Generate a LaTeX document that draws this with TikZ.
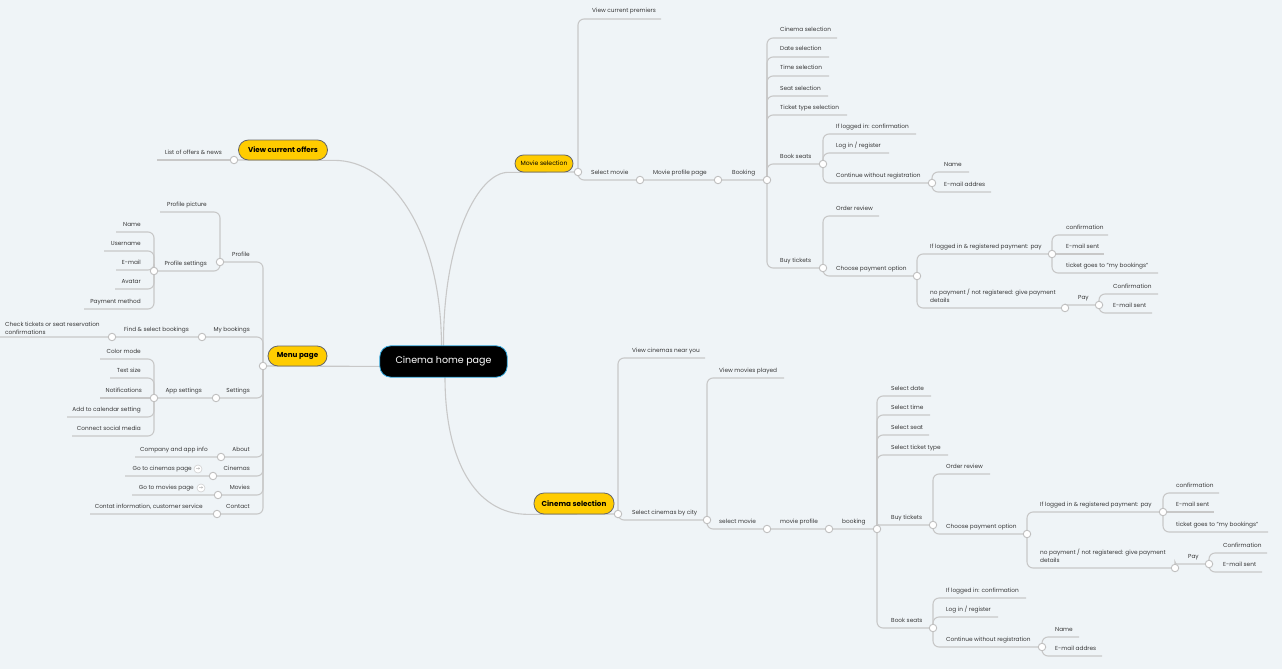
\documentclass[tikz,border=0pt]{standalone}
\usepackage{fontspec}
\setmainfont{Poppins}
\newfontfamily\symfont{DejaVu Sans}
\usetikzlibrary{positioning}

\definecolor{paper}{HTML}{EFF4F7}
\definecolor{linegray}{HTML}{C8C8C8}
\definecolor{gold}{HTML}{FFCC00}
\definecolor{rootblue}{HTML}{33AAE0}

\pgfdeclarelayer{bg}
\pgfsetlayers{bg,main}

\tikzset{
  lbl/.style={font=\fontsize{5.8}{8}\selectfont, text=black!78, inner sep=0pt},
  rlbl/.style={lbl, anchor=base west},
  llbl/.style={lbl, anchor=base east},
  dot/.style={circle, draw=black!25, fill=white, line width=0.9pt, minimum size=7.5pt, inner sep=0pt},
  conn/.style={draw=linegray, line width=1.1pt, rounded corners=6pt},
  topic/.style={rounded corners=10pt, fill=gold, draw=black!60, line width=0.8pt,
    font=\bfseries\fontsize{7.2}{8}\selectfont, inner sep=0pt, minimum height=20pt},
  goicon/.style={circle, draw=black!18, fill=white, line width=0.6pt, minimum size=8pt,
    inner sep=0pt, font=\symfont\fontsize{5}{5}\selectfont, text=black!45}
}

\begin{document}
\begin{tikzpicture}[x=1pt,y=-1pt]
\begin{pgfonlayer}{bg}
  \fill[paper] (0,0) rectangle (1282,669);
\end{pgfonlayer}
\useasboundingbox (0,0) rectangle (1282,669);

% centre and main topics
\node[minimum width=127pt, minimum height=31pt, inner sep=0pt, text=white,
      font=\fontsize{9.5}{10}\selectfont] (home) at (443.5,361.5) {Cinema home page};
\node[topic, minimum width=89pt] (offers) at (283,150) {View current offers};
\node[topic, minimum width=59pt] (menu) at (297.5,356) {Menu page};
\node[topic, minimum width=58pt, minimum height=17pt, rounded corners=8.5pt,
      font=\fontsize{6.1}{7}\selectfont] (moviesel) at (544,163.5) {Movie selection};
\node[topic, minimum width=80pt, minimum height=21pt] (cinemasel) at (574,503.5) {Cinema selection};

% junction dots
\foreach \nm/\pt in {offc/{234,160}, menuc/{263,366}, msc/{578,172}, csc/{618,514},
    profc/{220,262}, psc/{154,271}, mybc/{202,337}, fsbc/{112,337}, setc/{216,398},
    appc/{154,398}, abc/{221,457}, cinc/{213,476}, movc/{218,495}, conc/{217,514},
    smc/{640,180}, mppc/{718,180}, bkc/{767,180}, bsc/{823,164}, cwrc/{932,183},
    btc/{823,268}, cpoc/{917,276}, ilc/{1052,254}, npc/{1065,308}, payc/{1099,305},
    scc/{707,520}, sm2c/{767,529}, mp2c/{829,529}, bk2c/{877,529}, bt2c/{933,525},
    cpo2c/{1027,534}, il2c/{1163,512}, np2c/{1175,568}, pay2c/{1209,564},
    bs2c/{933,628}, cwr2c/{1042,647}}
  \node[dot] (\nm) at (\pt) {};

\begin{pgfonlayer}{bg}
  \draw[conn] ([xshift=-2pt]home.north) .. controls (441,230) and (390,160) .. (offers.south east) -- (offc);
  \draw[conn] (home.west |- menu.south) -- (menuc);
  \draw[conn] (home.north) .. controls (443,240) and (478,172) .. (moviesel.south west) -- (msc);
  \draw[conn] ([xshift=1.5pt]home.south) .. controls (445,460) and (475,514) .. (cinemasel.south west) -- (csc);
  \draw[fill=black, draw=rootblue, line width=0.8pt] (home.south) [rounded corners=11pt]
    -- (home.south west) -- (home.north west) -- (home.north east) -- (home.south east)
    [sharp corners] -- cycle;
\end{pgfonlayer}

% offers
\node[llbl] (news) at (222,154) {List of offers \& news};
\coordinate (news-e) at (157,160);

% menu page
\node[llbl] (profile) at (250,256) {Profile};
\node[llbl] (profpic) at (207,206) {Profile picture};
\coordinate (profpic-e) at (160,212);
\node[llbl] (profset) at (207,265) {Profile settings};
\node[llbl] (mybook) at (250,331) {My bookings};
\node[llbl] (findsel) at (189,331) {Find \& select bookings};
\node[lbl, anchor=base west, align=left] (checktk) at (5,334) {Check tickets or seat reservation\\confirmations};
\coordinate (checktk-e) at (0,337);
\node[llbl] (settings) at (250,392) {Settings};
\node[llbl] (appset) at (202,392) {App settings};
\node[llbl] (about) at (250,451) {About};
\node[llbl] (compinfo) at (208,451) {Company and app info};
\coordinate (compinfo-e) at (135,457);
\node[llbl] (cinemas) at (250,470) {Cinemas};
\node[llbl] (gocin) at (192,470) {Go to cinemas page};
\node[goicon] (gocin-i) at (198,469) {→};
\coordinate (gocin-e) at (125,476);
\node[llbl] (movies) at (250,489) {Movies};
\node[llbl] (gomov) at (194,489) {Go to movies page};
\node[goicon] (gomov-i) at (201,488) {→};
\coordinate (gomov-e) at (132,495);
\node[llbl] (contact) at (250,508) {Contact};
\node[llbl] (continfo) at (203,508) {Contat information, customer service};
\coordinate (continfo-e) at (90,514);

\begin{pgfonlayer}{bg}
  \draw[conn] (offc) -- (news-e);
  \draw[conn] (menuc) |- (profc);
  \draw[conn] (profc) |- (profpic-e);
  \draw[conn] (profc) |- (psc);
  \draw[conn] (menuc) |- (mybc) -- (fsbc) -- (checktk-e);
  \draw[conn] (menuc) |- (setc) -- (appc);
  \draw[conn] (menuc) |- (abc) -- (compinfo-e);
  \draw[conn] (menuc) |- (cinc) -- (gocin-e);
  \draw[conn] (menuc) |- (movc) -- (gomov-e);
  \draw[conn] (menuc) |- (conc) -- (continfo-e);
\end{pgfonlayer}

\foreach \nm/\yy/\ex/\txt in {pname/232/116/Name, puser/251/104/Username,
    pmail/270/116/E-mail, pavatar/289/115/Avatar, ppay/309/84/Payment method}{
  \node[llbl] (\nm) at (141,\yy-6) {\txt};
  \coordinate (\nm-e) at (\ex,\yy);
  \begin{pgfonlayer}{bg}\draw[conn] (psc) |- (\nm-e);\end{pgfonlayer}
}
\foreach \nm/\yy/\ex/\txt in {acolor/359/100/Color mode, atext/378/110/Text size,
    acal/417/67/Add to calendar setting, asocial/436/72/Connect social media}{
  \node[llbl] (\nm) at (141,\yy-6) {\txt};
  \coordinate (\nm-e) at (\ex,\yy);
  \begin{pgfonlayer}{bg}\draw[conn] (appc) |- (\nm-e);\end{pgfonlayer}
}
\node[llbl] (anotif) at (142,392) {Notifications};
\coordinate (anotif-e) at (100,398);
\begin{pgfonlayer}{bg}\draw[conn] (appc) -- (anotif-e);\end{pgfonlayer}

% movie selection
\node[rlbl] (premiers) at (592,13) {View current premiers};
\coordinate (premiers-e) at (661,19);
\node[rlbl] (selmovie) at (591,174) {Select movie};
\node[rlbl] (mprofile) at (653,174) {Movie profile page};
\node[rlbl] (booking) at (732,174) {Booking};
\node[rlbl] (bookseats) at (780,158) {Book seats};
\node[rlbl] (contreg) at (836,177) {Continue without registration};
\node[rlbl] (buytk) at (780,262) {Buy tickets};
\node[rlbl] (ordrev) at (836,210) {Order review};
\coordinate (ordrev-e) at (879,216);
\node[rlbl] (choosepay) at (836,270) {Choose payment option};
\node[rlbl] (logpay) at (930,248) {If logged in \& registered payment: pay};
\node[lbl, anchor=base west, align=left] (nopay) at (930,302) {no payment / not registered: give payment\\details};
\node[rlbl] (pay) at (1078,299) {Pay};
\node[rlbl] (imail) at (1066,248) {E-mail sent};
\coordinate (imail-e) at (1104,254);

\begin{pgfonlayer}{bg}
  \draw[conn] (msc) |- (premiers-e);
  \draw[conn] (msc) |- (smc) -- (mppc) -- (bkc);
  \draw[conn] (bkc) |- (bsc);
  \draw[conn] (bsc) |- (cwrc);
  \draw[conn] (bkc) |- (btc);
  \draw[conn] (btc) |- (ordrev-e);
  \draw[conn] (btc) |- (cpoc);
  \draw[conn] (cpoc) |- (ilc);
  \draw[conn] (cpoc) |- (npc);
  \draw[conn, rounded corners=1pt] (npc) |- (payc);
  \draw[conn] (ilc) -- (imail-e);
\end{pgfonlayer}

\foreach \nm/\yy/\ex/\txt in {bcin/38/837/Cinema selection, bdate/57/829/Date selection,
    btime/76/829/Time selection, bseat/96/828/Seat selection,
    bticket/115/847/Ticket type selection}{
  \node[rlbl] (\nm) at (780,\yy-6) {\txt};
  \coordinate (\nm-e) at (\ex,\yy);
  \begin{pgfonlayer}{bg}\draw[conn] (bkc) |- (\nm-e);\end{pgfonlayer}
}
\foreach \nm/\yy/\ex/\txt in {sconf/134/916/If logged in: confirmation, slog/153/889/{Log in / register}}{
  \node[rlbl] (\nm) at (836,\yy-6) {\txt};
  \coordinate (\nm-e) at (\ex,\yy);
  \begin{pgfonlayer}{bg}\draw[conn] (bsc) |- (\nm-e);\end{pgfonlayer}
}
\foreach \nm/\yy/\ex/\txt in {cname/172/969/Name, cmail/192/991/E-mail addres}{
  \node[rlbl] (\nm) at (944,\yy-6) {\txt};
  \coordinate (\nm-e) at (\ex,\yy);
  \begin{pgfonlayer}{bg}\draw[conn] (cwrc) |- (\nm-e);\end{pgfonlayer}
}
\foreach \nm/\yy/\ex/\txt in {iconf/235/1108/confirmation, iticket/273/1158/ticket goes to "my bookings"}{
  \node[rlbl] (\nm) at (1066,\yy-6) {\txt};
  \coordinate (\nm-e) at (\ex,\yy);
  \begin{pgfonlayer}{bg}\draw[conn] (ilc) |- (\nm-e);\end{pgfonlayer}
}
\foreach \nm/\yy/\ex/\txt in {pconf/294/1158/Confirmation, pmailsent/313/1152/E-mail sent}{
  \node[rlbl] (\nm) at (1113,\yy-6) {\txt};
  \coordinate (\nm-e) at (\ex,\yy);
  \begin{pgfonlayer}{bg}\draw[conn] (payc) |- (\nm-e);\end{pgfonlayer}
}

% cinema selection
\node[rlbl] (nearyou) at (632,352) {View cinemas near you};
\coordinate (nearyou-e) at (705,358);
\node[rlbl] (bycity) at (632,514) {Select cinemas by city};
\node[rlbl] (played) at (719,372) {View movies played};
\coordinate (played-e) at (784,378);
\node[rlbl] (selmovie2) at (719,523) {select movie};
\node[rlbl] (mprofile2) at (780,523) {movie profile};
\node[rlbl] (booking2) at (842,523) {booking};
\node[rlbl] (buytk2) at (891,519) {Buy tickets};
\node[rlbl] (ordrev2) at (946,468) {Order review};
\coordinate (ordrev2-e) at (990,474);
\node[rlbl] (choosepay2) at (946,528) {Choose payment option};
\node[rlbl] (logpay2) at (1040,506) {If logged in \& registered payment: pay};
\node[lbl, anchor=base west, align=left] (nopay2) at (1040,562) {no payment / not registered: give payment\\details};
\node[rlbl] (pay2) at (1188,558) {Pay};
\node[rlbl] (imail2) at (1176,506) {E-mail sent};
\coordinate (imail2-e) at (1214,512);
\node[rlbl] (bookseats2) at (891,622) {Book seats};
\node[rlbl] (contreg2) at (946,641) {Continue without registration};

\begin{pgfonlayer}{bg}
  \draw[conn] (csc) |- (nearyou-e);
  \draw[conn] (csc) |- (scc);
  \draw[conn] (scc) |- (played-e);
  \draw[conn] (scc) |- (sm2c) -- (mp2c) -- (bk2c);
  \draw[conn, rounded corners=2pt] (bk2c) |- (bt2c);
  \draw[conn] (bt2c) |- (ordrev2-e);
  \draw[conn] (bt2c) |- (cpo2c);
  \draw[conn] (cpo2c) |- (il2c);
  \draw[conn] (cpo2c) |- (np2c);
  \draw[conn, rounded corners=2pt] (np2c) |- (pay2c);
  \draw[conn] (il2c) -- (imail2-e);
  \draw[conn] (bk2c) |- (bs2c);
  \draw[conn] (bs2c) |- (cwr2c);
\end{pgfonlayer}

\foreach \nm/\yy/\ex/\txt in {kdate/396/931/Select date, ktime/415/930/Select time,
    kseat/435/929/Select seat, kticket/455/948/Select ticket type}{
  \node[rlbl] (\nm) at (891,\yy-6) {\txt};
  \coordinate (\nm-e) at (\ex,\yy);
  \begin{pgfonlayer}{bg}\draw[conn] (bk2c) |- (\nm-e);\end{pgfonlayer}
}
\foreach \nm/\yy/\ex/\txt in {jconf/493/1219/confirmation, jticket/532/1268/ticket goes to "my bookings"}{
  \node[rlbl] (\nm) at (1176,\yy-6) {\txt};
  \coordinate (\nm-e) at (\ex,\yy);
  \begin{pgfonlayer}{bg}\draw[conn] (il2c) |- (\nm-e);\end{pgfonlayer}
}
\foreach \nm/\yy/\ex/\txt in {qconf/553/1267/Confirmation, qmail/572/1262/E-mail sent}{
  \node[rlbl] (\nm) at (1223,\yy-6) {\txt};
  \coordinate (\nm-e) at (\ex,\yy);
  \begin{pgfonlayer}{bg}\draw[conn] (pay2c) |- (\nm-e);\end{pgfonlayer}
}
\foreach \nm/\yy/\ex/\txt in {tconf/598/1026/If logged in: confirmation, tlog/617/998/{Log in / register}}{
  \node[rlbl] (\nm) at (946,\yy-6) {\txt};
  \coordinate (\nm-e) at (\ex,\yy);
  \begin{pgfonlayer}{bg}\draw[conn] (bs2c) |- (\nm-e);\end{pgfonlayer}
}
\foreach \nm/\yy/\ex/\txt in {uname/637/1079/Name, umail/656/1102/E-mail addres}{
  \node[rlbl] (\nm) at (1055,\yy-6) {\txt};
  \coordinate (\nm-e) at (\ex,\yy);
  \begin{pgfonlayer}{bg}\draw[conn] (cwr2c) |- (\nm-e);\end{pgfonlayer}
}
\end{tikzpicture}
\end{document}
